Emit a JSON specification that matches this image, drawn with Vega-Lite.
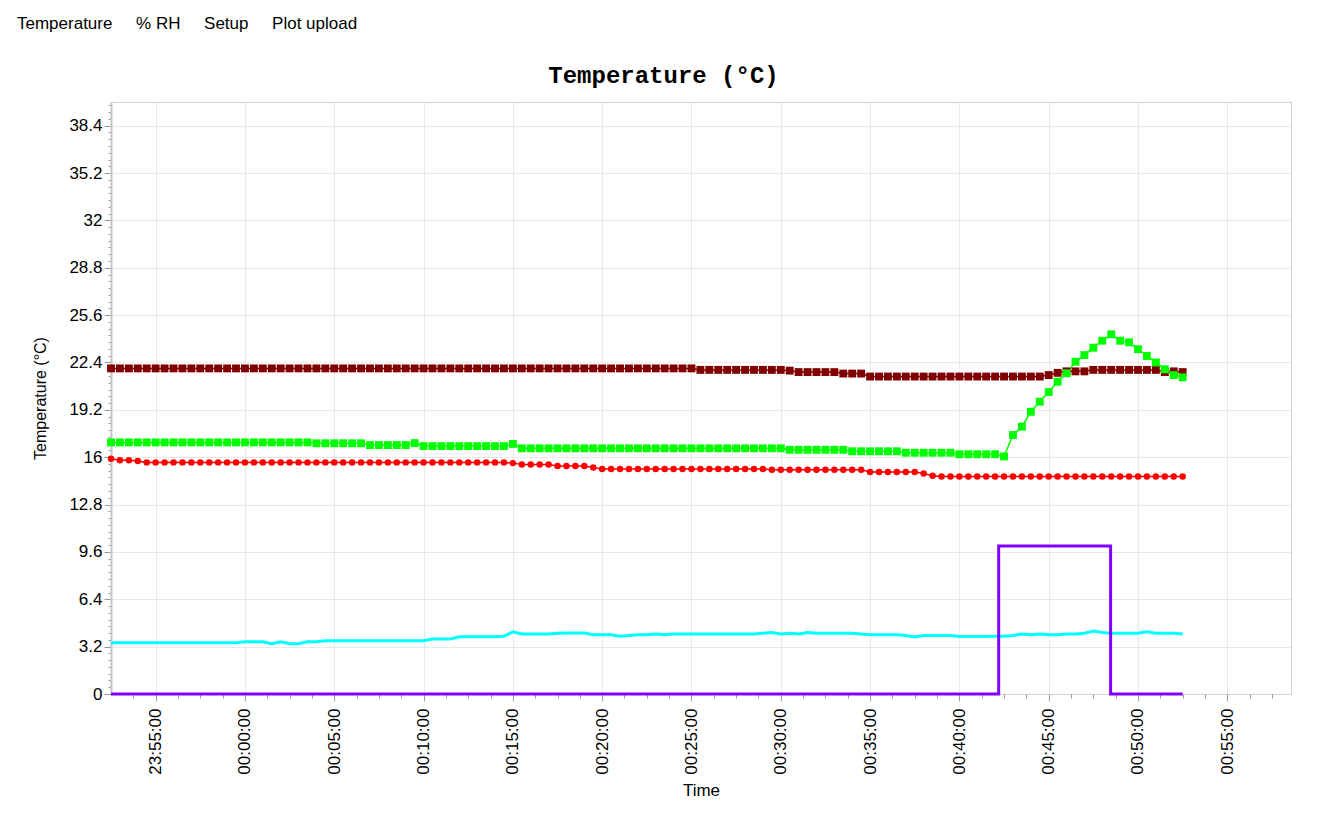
{
  "$schema": "https://vega.github.io/schema/vega-lite/v6.json",
  "width": 1180,
  "height": 592,
  "autosize": {"type": "none"},
  "padding": {"left": 111, "top": 102, "right": 27, "bottom": 128},
  "background": "#ffffff",
  "config": {
    "view": {"stroke": "#a0a0a0", "strokeDash": [1, 1], "strokeWidth": 1},
    "font": "Liberation Sans"
  },
  "title": {
    "text": "Temperature\u00a0\u00a0\u00a0\u00a0\u00a0% RH\u00a0\u00a0\u00a0\u00a0\u00a0Setup\u00a0\u00a0\u00a0\u00a0\u00a0Plot upload",
    "anchor": "start",
    "frame": "group",
    "dx": -94,
    "offset": 17,
    "baseline": "alphabetic",
    "font": "Liberation Sans",
    "fontSize": 17,
    "fontWeight": "normal",
    "color": "#000000"
  },
  "datasets": {
    "readings": [
      {"time":"2024-01-01T23:52:30Z","t1":22.0,"t2":17.0,"t3":15.9,"t4":3.47},
      {"time":"2024-01-01T23:53:00Z","t1":22.0,"t2":17.0,"t3":15.8,"t4":3.47},
      {"time":"2024-01-01T23:53:30Z","t1":22.0,"t2":17.0,"t3":15.8,"t4":3.47},
      {"time":"2024-01-01T23:54:00Z","t1":22.0,"t2":17.0,"t3":15.75,"t4":3.47},
      {"time":"2024-01-01T23:54:30Z","t1":22.0,"t2":17.0,"t3":15.65,"t4":3.47},
      {"time":"2024-01-01T23:55:00Z","t1":22.0,"t2":17.0,"t3":15.65,"t4":3.47},
      {"time":"2024-01-01T23:55:30Z","t1":22.0,"t2":17.0,"t3":15.65,"t4":3.47},
      {"time":"2024-01-01T23:56:00Z","t1":22.0,"t2":17.0,"t3":15.65,"t4":3.47},
      {"time":"2024-01-01T23:56:30Z","t1":22.0,"t2":17.0,"t3":15.65,"t4":3.47},
      {"time":"2024-01-01T23:57:00Z","t1":22.0,"t2":17.0,"t3":15.65,"t4":3.47},
      {"time":"2024-01-01T23:57:30Z","t1":22.0,"t2":17.0,"t3":15.65,"t4":3.47},
      {"time":"2024-01-01T23:58:00Z","t1":22.0,"t2":17.0,"t3":15.65,"t4":3.47},
      {"time":"2024-01-01T23:58:30Z","t1":22.0,"t2":17.0,"t3":15.65,"t4":3.47},
      {"time":"2024-01-01T23:59:00Z","t1":22.0,"t2":17.0,"t3":15.65,"t4":3.47},
      {"time":"2024-01-01T23:59:30Z","t1":22.0,"t2":17.0,"t3":15.65,"t4":3.47},
      {"time":"2024-01-02T00:00:00Z","t1":22.0,"t2":17.0,"t3":15.65,"t4":3.53},
      {"time":"2024-01-02T00:00:30Z","t1":22.0,"t2":17.0,"t3":15.65,"t4":3.53},
      {"time":"2024-01-02T00:01:00Z","t1":22.0,"t2":17.0,"t3":15.65,"t4":3.53},
      {"time":"2024-01-02T00:01:30Z","t1":22.0,"t2":17.0,"t3":15.65,"t4":3.4},
      {"time":"2024-01-02T00:02:00Z","t1":22.0,"t2":17.0,"t3":15.65,"t4":3.53},
      {"time":"2024-01-02T00:02:30Z","t1":22.0,"t2":17.0,"t3":15.65,"t4":3.4},
      {"time":"2024-01-02T00:03:00Z","t1":22.0,"t2":17.0,"t3":15.65,"t4":3.4},
      {"time":"2024-01-02T00:03:30Z","t1":22.0,"t2":17.0,"t3":15.65,"t4":3.53},
      {"time":"2024-01-02T00:04:00Z","t1":22.0,"t2":16.94,"t3":15.65,"t4":3.53},
      {"time":"2024-01-02T00:04:30Z","t1":22.0,"t2":16.94,"t3":15.65,"t4":3.6},
      {"time":"2024-01-02T00:05:00Z","t1":22.0,"t2":16.94,"t3":15.65,"t4":3.6},
      {"time":"2024-01-02T00:05:30Z","t1":22.0,"t2":16.94,"t3":15.65,"t4":3.6},
      {"time":"2024-01-02T00:06:00Z","t1":22.0,"t2":16.94,"t3":15.65,"t4":3.6},
      {"time":"2024-01-02T00:06:30Z","t1":22.0,"t2":16.94,"t3":15.65,"t4":3.6},
      {"time":"2024-01-02T00:07:00Z","t1":22.0,"t2":16.82,"t3":15.65,"t4":3.6},
      {"time":"2024-01-02T00:07:30Z","t1":22.0,"t2":16.82,"t3":15.65,"t4":3.6},
      {"time":"2024-01-02T00:08:00Z","t1":22.0,"t2":16.82,"t3":15.65,"t4":3.6},
      {"time":"2024-01-02T00:08:30Z","t1":22.0,"t2":16.82,"t3":15.65,"t4":3.6},
      {"time":"2024-01-02T00:09:00Z","t1":22.0,"t2":16.82,"t3":15.65,"t4":3.6},
      {"time":"2024-01-02T00:09:30Z","t1":22.0,"t2":16.95,"t3":15.65,"t4":3.6},
      {"time":"2024-01-02T00:10:00Z","t1":22.0,"t2":16.75,"t3":15.65,"t4":3.6},
      {"time":"2024-01-02T00:10:30Z","t1":22.0,"t2":16.75,"t3":15.65,"t4":3.72},
      {"time":"2024-01-02T00:11:00Z","t1":22.0,"t2":16.75,"t3":15.65,"t4":3.72},
      {"time":"2024-01-02T00:11:30Z","t1":22.0,"t2":16.75,"t3":15.65,"t4":3.72},
      {"time":"2024-01-02T00:12:00Z","t1":22.0,"t2":16.75,"t3":15.65,"t4":3.87},
      {"time":"2024-01-02T00:12:30Z","t1":22.0,"t2":16.75,"t3":15.65,"t4":3.87},
      {"time":"2024-01-02T00:13:00Z","t1":22.0,"t2":16.75,"t3":15.65,"t4":3.87},
      {"time":"2024-01-02T00:13:30Z","t1":22.0,"t2":16.75,"t3":15.65,"t4":3.87},
      {"time":"2024-01-02T00:14:00Z","t1":22.0,"t2":16.75,"t3":15.65,"t4":3.87},
      {"time":"2024-01-02T00:14:30Z","t1":22.0,"t2":16.75,"t3":15.65,"t4":3.9},
      {"time":"2024-01-02T00:15:00Z","t1":22.0,"t2":16.9,"t3":15.6,"t4":4.2},
      {"time":"2024-01-02T00:15:30Z","t1":22.0,"t2":16.6,"t3":15.5,"t4":4.05},
      {"time":"2024-01-02T00:16:00Z","t1":22.0,"t2":16.6,"t3":15.5,"t4":4.05},
      {"time":"2024-01-02T00:16:30Z","t1":22.0,"t2":16.6,"t3":15.5,"t4":4.05},
      {"time":"2024-01-02T00:17:00Z","t1":22.0,"t2":16.6,"t3":15.5,"t4":4.05},
      {"time":"2024-01-02T00:17:30Z","t1":22.0,"t2":16.6,"t3":15.4,"t4":4.1},
      {"time":"2024-01-02T00:18:00Z","t1":22.0,"t2":16.6,"t3":15.4,"t4":4.12},
      {"time":"2024-01-02T00:18:30Z","t1":22.0,"t2":16.6,"t3":15.4,"t4":4.12},
      {"time":"2024-01-02T00:19:00Z","t1":22.0,"t2":16.6,"t3":15.4,"t4":4.12},
      {"time":"2024-01-02T00:19:30Z","t1":22.0,"t2":16.6,"t3":15.3,"t4":4.0},
      {"time":"2024-01-02T00:20:00Z","t1":22.0,"t2":16.6,"t3":15.2,"t4":4.0},
      {"time":"2024-01-02T00:20:30Z","t1":22.0,"t2":16.6,"t3":15.2,"t4":4.0},
      {"time":"2024-01-02T00:21:00Z","t1":22.0,"t2":16.6,"t3":15.2,"t4":3.9},
      {"time":"2024-01-02T00:21:30Z","t1":22.0,"t2":16.6,"t3":15.2,"t4":3.95},
      {"time":"2024-01-02T00:22:00Z","t1":22.0,"t2":16.6,"t3":15.2,"t4":4.0},
      {"time":"2024-01-02T00:22:30Z","t1":22.0,"t2":16.6,"t3":15.2,"t4":4.0},
      {"time":"2024-01-02T00:23:00Z","t1":22.0,"t2":16.6,"t3":15.2,"t4":4.05},
      {"time":"2024-01-02T00:23:30Z","t1":22.0,"t2":16.6,"t3":15.2,"t4":4.0},
      {"time":"2024-01-02T00:24:00Z","t1":22.0,"t2":16.6,"t3":15.2,"t4":4.05},
      {"time":"2024-01-02T00:24:30Z","t1":22.0,"t2":16.6,"t3":15.2,"t4":4.05},
      {"time":"2024-01-02T00:25:00Z","t1":22.0,"t2":16.6,"t3":15.2,"t4":4.05},
      {"time":"2024-01-02T00:25:30Z","t1":21.9,"t2":16.6,"t3":15.2,"t4":4.05},
      {"time":"2024-01-02T00:26:00Z","t1":21.9,"t2":16.6,"t3":15.2,"t4":4.05},
      {"time":"2024-01-02T00:26:30Z","t1":21.9,"t2":16.6,"t3":15.2,"t4":4.05},
      {"time":"2024-01-02T00:27:00Z","t1":21.9,"t2":16.6,"t3":15.2,"t4":4.05},
      {"time":"2024-01-02T00:27:30Z","t1":21.9,"t2":16.6,"t3":15.2,"t4":4.05},
      {"time":"2024-01-02T00:28:00Z","t1":21.9,"t2":16.6,"t3":15.2,"t4":4.05},
      {"time":"2024-01-02T00:28:30Z","t1":21.9,"t2":16.6,"t3":15.2,"t4":4.05},
      {"time":"2024-01-02T00:29:00Z","t1":21.9,"t2":16.6,"t3":15.2,"t4":4.1},
      {"time":"2024-01-02T00:29:30Z","t1":21.9,"t2":16.6,"t3":15.15,"t4":4.15},
      {"time":"2024-01-02T00:30:00Z","t1":21.9,"t2":16.6,"t3":15.15,"t4":4.05},
      {"time":"2024-01-02T00:30:30Z","t1":21.85,"t2":16.5,"t3":15.15,"t4":4.1},
      {"time":"2024-01-02T00:31:00Z","t1":21.75,"t2":16.5,"t3":15.15,"t4":4.05},
      {"time":"2024-01-02T00:31:30Z","t1":21.75,"t2":16.5,"t3":15.15,"t4":4.15},
      {"time":"2024-01-02T00:32:00Z","t1":21.75,"t2":16.5,"t3":15.15,"t4":4.1},
      {"time":"2024-01-02T00:32:30Z","t1":21.75,"t2":16.5,"t3":15.15,"t4":4.1},
      {"time":"2024-01-02T00:33:00Z","t1":21.75,"t2":16.5,"t3":15.15,"t4":4.1},
      {"time":"2024-01-02T00:33:30Z","t1":21.65,"t2":16.5,"t3":15.15,"t4":4.1},
      {"time":"2024-01-02T00:34:00Z","t1":21.65,"t2":16.4,"t3":15.15,"t4":4.1},
      {"time":"2024-01-02T00:34:30Z","t1":21.65,"t2":16.4,"t3":15.15,"t4":4.05},
      {"time":"2024-01-02T00:35:00Z","t1":21.45,"t2":16.4,"t3":15.0,"t4":4.0},
      {"time":"2024-01-02T00:35:30Z","t1":21.45,"t2":16.4,"t3":15.0,"t4":4.0},
      {"time":"2024-01-02T00:36:00Z","t1":21.45,"t2":16.4,"t3":15.0,"t4":4.0},
      {"time":"2024-01-02T00:36:30Z","t1":21.45,"t2":16.4,"t3":15.0,"t4":4.0},
      {"time":"2024-01-02T00:37:00Z","t1":21.45,"t2":16.3,"t3":15.0,"t4":3.95},
      {"time":"2024-01-02T00:37:30Z","t1":21.45,"t2":16.3,"t3":15.0,"t4":3.85},
      {"time":"2024-01-02T00:38:00Z","t1":21.45,"t2":16.3,"t3":14.9,"t4":3.95},
      {"time":"2024-01-02T00:38:30Z","t1":21.45,"t2":16.3,"t3":14.75,"t4":3.95},
      {"time":"2024-01-02T00:39:00Z","t1":21.45,"t2":16.3,"t3":14.7,"t4":3.95},
      {"time":"2024-01-02T00:39:30Z","t1":21.45,"t2":16.3,"t3":14.7,"t4":3.95},
      {"time":"2024-01-02T00:40:00Z","t1":21.45,"t2":16.2,"t3":14.7,"t4":3.88},
      {"time":"2024-01-02T00:40:30Z","t1":21.45,"t2":16.2,"t3":14.7,"t4":3.88},
      {"time":"2024-01-02T00:41:00Z","t1":21.45,"t2":16.2,"t3":14.7,"t4":3.88},
      {"time":"2024-01-02T00:41:30Z","t1":21.45,"t2":16.2,"t3":14.7,"t4":3.88},
      {"time":"2024-01-02T00:42:00Z","t1":21.45,"t2":16.2,"t3":14.7,"t4":3.9},
      {"time":"2024-01-02T00:42:30Z","t1":21.45,"t2":16.05,"t3":14.7,"t4":3.9},
      {"time":"2024-01-02T00:43:00Z","t1":21.45,"t2":17.5,"t3":14.7,"t4":3.95},
      {"time":"2024-01-02T00:43:30Z","t1":21.45,"t2":18.06,"t3":14.7,"t4":4.05},
      {"time":"2024-01-02T00:44:00Z","t1":21.45,"t2":19.07,"t3":14.7,"t4":4.0},
      {"time":"2024-01-02T00:44:30Z","t1":21.45,"t2":19.75,"t3":14.7,"t4":4.05},
      {"time":"2024-01-02T00:45:00Z","t1":21.55,"t2":20.4,"t3":14.7,"t4":4.0},
      {"time":"2024-01-02T00:45:30Z","t1":21.7,"t2":21.1,"t3":14.7,"t4":4.0},
      {"time":"2024-01-02T00:46:00Z","t1":21.8,"t2":21.67,"t3":14.7,"t4":4.05},
      {"time":"2024-01-02T00:46:30Z","t1":21.8,"t2":22.45,"t3":14.7,"t4":4.05},
      {"time":"2024-01-02T00:47:00Z","t1":21.8,"t2":22.9,"t3":14.7,"t4":4.1},
      {"time":"2024-01-02T00:47:30Z","t1":21.9,"t2":23.4,"t3":14.7,"t4":4.25},
      {"time":"2024-01-02T00:48:00Z","t1":21.9,"t2":23.87,"t3":14.7,"t4":4.15},
      {"time":"2024-01-02T00:48:30Z","t1":21.9,"t2":24.3,"t3":14.7,"t4":4.1},
      {"time":"2024-01-02T00:49:00Z","t1":21.9,"t2":23.87,"t3":14.7,"t4":4.1},
      {"time":"2024-01-02T00:49:30Z","t1":21.9,"t2":23.76,"t3":14.7,"t4":4.1},
      {"time":"2024-01-02T00:50:00Z","t1":21.9,"t2":23.3,"t3":14.7,"t4":4.1},
      {"time":"2024-01-02T00:50:30Z","t1":21.9,"t2":22.84,"t3":14.7,"t4":4.2},
      {"time":"2024-01-02T00:51:00Z","t1":21.9,"t2":22.4,"t3":14.7,"t4":4.1},
      {"time":"2024-01-02T00:51:30Z","t1":21.75,"t2":21.94,"t3":14.7,"t4":4.1},
      {"time":"2024-01-02T00:52:00Z","t1":21.8,"t2":21.55,"t3":14.7,"t4":4.1},
      {"time":"2024-01-02T00:52:30Z","t1":21.75,"t2":21.4,"t3":14.7,"t4":4.05}
    ],
    "relay": [
      {"time":"2024-01-01T23:52:30Z","v":0},
      {"time":"2024-01-02T00:42:12Z","v":10},
      {"time":"2024-01-02T00:48:28Z","v":0},
      {"time":"2024-01-02T00:52:30Z","v":0}
    ]
  },
  "resolve": {"axis": {"x": "independent"}},
  "layer": [
    {
      "data": {"name": "readings"},
      "mark": {"type": "line", "color": "#00ffff", "strokeWidth": 3},
      "encoding": {
        "x": {"field": "time", "type": "temporal", "scale": {"type": "utc", "domain": [1704153150000, 1704157114000]}, "axis": null},
        "y": {
          "field": "t4", "type": "quantitative",
          "scale": {"domain": [0, 40], "nice": false, "zero": false},
          "axis": {
            "values": [0,0.457,0.914,1.371,1.829,2.286,2.743,3.2,3.657,4.114,4.571,5.029,5.486,5.943,6.4,6.857,7.314,7.771,8.229,8.686,9.143,9.6,10.057,10.514,10.971,11.429,11.886,12.343,12.8,13.257,13.714,14.171,14.629,15.086,15.543,16,16.457,16.914,17.371,17.829,18.286,18.743,19.2,19.657,20.114,20.571,21.029,21.486,21.943,22.4,22.857,23.314,23.771,24.229,24.686,25.143,25.6,26.057,26.514,26.971,27.429,27.886,28.343,28.8,29.257,29.714,30.171,30.629,31.086,31.543,32,32.457,32.914,33.371,33.829,34.286,34.743,35.2,35.657,36.114,36.571,37.029,37.486,37.943,38.4,38.857,39.314,39.771],
            "tickCount": 500,
            "labelExpr": "indexof([0,3.2,6.4,9.6,12.8,16,19.2,22.4,25.6,28.8,32,35.2,38.4], datum.value) >= 0 ? format(datum.value, '~g') : ''",
            "labelFont": "Liberation Sans", "labelFontSize": 17, "labelColor": "#000000", "labelPadding": 2,
            "labelOverlap": false, "labelFlush": false,
            "tickColor": "#999999",
            "tickSize": {"condition": {"test": "indexof([0,3.2,6.4,9.6,12.8,16,19.2,22.4,25.6,28.8,32,35.2,38.4], datum.value) >= 0", "value": 7}, "value": 3},
            "grid": true, "gridColor": "#d2d2d2", "gridDash": [1, 1],
            "gridOpacity": {"condition": {"test": "indexof([0,3.2,6.4,9.6,12.8,16,19.2,22.4,25.6,28.8,32,35.2,38.4], datum.value) >= 0", "value": 1}, "value": 0},
            "domain": true, "domainColor": "#c4c4c4", "domainWidth": 2,
            "title": "Temperature (°C)", "titleFont": "Liberation Sans", "titleFontSize": 16, "titleFontWeight": "normal", "titleColor": "#000000", "titlePadding": 20
          }
        }
      }
    },
    {
      "data": {"name": "relay"},
      "mark": {"type": "line", "color": "#8000ff", "strokeWidth": 3, "interpolate": "step-after"},
      "encoding": {
        "x": {
          "field": "time", "type": "temporal",
          "scale": {"type": "utc", "domain": [1704153150000, 1704157114000]},
          "axis": {
            "orient": "top", "labels": false, "ticks": false, "domain": false, "grid": false,
            "title": "Temperature (°C)", "titleFont": "Liberation Mono", "titleFontSize": 24, "titleFontWeight": "bold",
            "titleColor": "#000000", "titleX": 552, "titleY": -27, "titleAlign": "center", "titleBaseline": "middle", "titleAngle": 0
          }
        },
        "y": {"field": "v", "type": "quantitative"}
      }
    },
    {
      "data": {"name": "readings"},
      "transform": [{"fold": ["t1", "t2", "t3"], "as": ["sensor", "value"]}],
      "mark": {"type": "line", "strokeWidth": 1.5},
      "encoding": {
        "x": {
          "field": "time", "type": "temporal",
          "scale": {"type": "utc", "domain": [1704153150000, 1704157114000]},
          "axis": {
            "orient": "bottom",
            "values": [1704153225000,1704153300000,1704153375000,1704153450000,1704153525000,1704153600000,1704153675000,1704153750000,1704153825000,1704153900000,1704153975000,1704154050000,1704154125000,1704154200000,1704154275000,1704154350000,1704154425000,1704154500000,1704154575000,1704154650000,1704154725000,1704154800000,1704154875000,1704154950000,1704155025000,1704155100000,1704155175000,1704155250000,1704155325000,1704155400000,1704155475000,1704155550000,1704155625000,1704155700000,1704155775000,1704155850000,1704155925000,1704156000000,1704156075000,1704156150000,1704156225000,1704156300000,1704156375000,1704156450000,1704156525000,1704156600000,1704156675000,1704156750000,1704156825000,1704156900000,1704156975000,1704157050000],
            "tickCount": 500,
            "labelExpr": "utcseconds(datum.value) == 0 && utcminutes(datum.value) % 5 == 0 ? utcFormat(datum.value, '%H:%M:%S') : ''",
            "labelAngle": 270,
            "labelFont": "Liberation Sans", "labelFontSize": 17, "labelColor": "#000000", "labelPadding": 7,
            "labelOverlap": false, "labelFlush": false, "labelBound": false,
            "tickColor": "#999999",
            "tickSize": {"condition": {"test": "utcseconds(datum.value) == 0 && utcminutes(datum.value) % 5 == 0", "value": 7}, "value": 4},
            "grid": true, "gridColor": "#d2d2d2", "gridDash": [1, 1],
            "gridOpacity": {"condition": {"test": "utcseconds(datum.value) == 0 && utcminutes(datum.value) % 5 == 0", "value": 1}, "value": 0},
            "domain": false,
            "title": "Time", "titleFont": "Liberation Sans", "titleFontSize": 17, "titleFontWeight": "normal", "titleColor": "#000000", "titlePadding": 8
          }
        },
        "y": {"field": "value", "type": "quantitative"},
        "color": {"field": "sensor", "type": "nominal", "scale": {"domain": ["t1", "t2", "t3"], "range": ["#800000", "#00ff00", "#ff0000"]}, "legend": null}
      }
    },
    {
      "data": {"name": "readings"},
      "transform": [{"fold": ["t1", "t2"], "as": ["sensor", "value"]}],
      "mark": {"type": "square", "filled": true, "opacity": 1, "size": 62},
      "encoding": {
        "x": {"field": "time", "type": "temporal", "scale": {"type": "utc", "domain": [1704153150000, 1704157114000]}, "axis": null},
        "y": {"field": "value", "type": "quantitative"},
        "color": {"field": "sensor", "type": "nominal", "scale": {"domain": ["t1", "t2", "t3"], "range": ["#800000", "#00ff00", "#ff0000"]}, "legend": null}
      }
    },
    {
      "data": {"name": "readings"},
      "mark": {"type": "circle", "color": "#ff0000", "opacity": 1, "size": 42},
      "encoding": {
        "x": {"field": "time", "type": "temporal", "scale": {"type": "utc", "domain": [1704153150000, 1704157114000]}, "axis": null},
        "y": {"field": "t3", "type": "quantitative"}
      }
    }
  ]
}
